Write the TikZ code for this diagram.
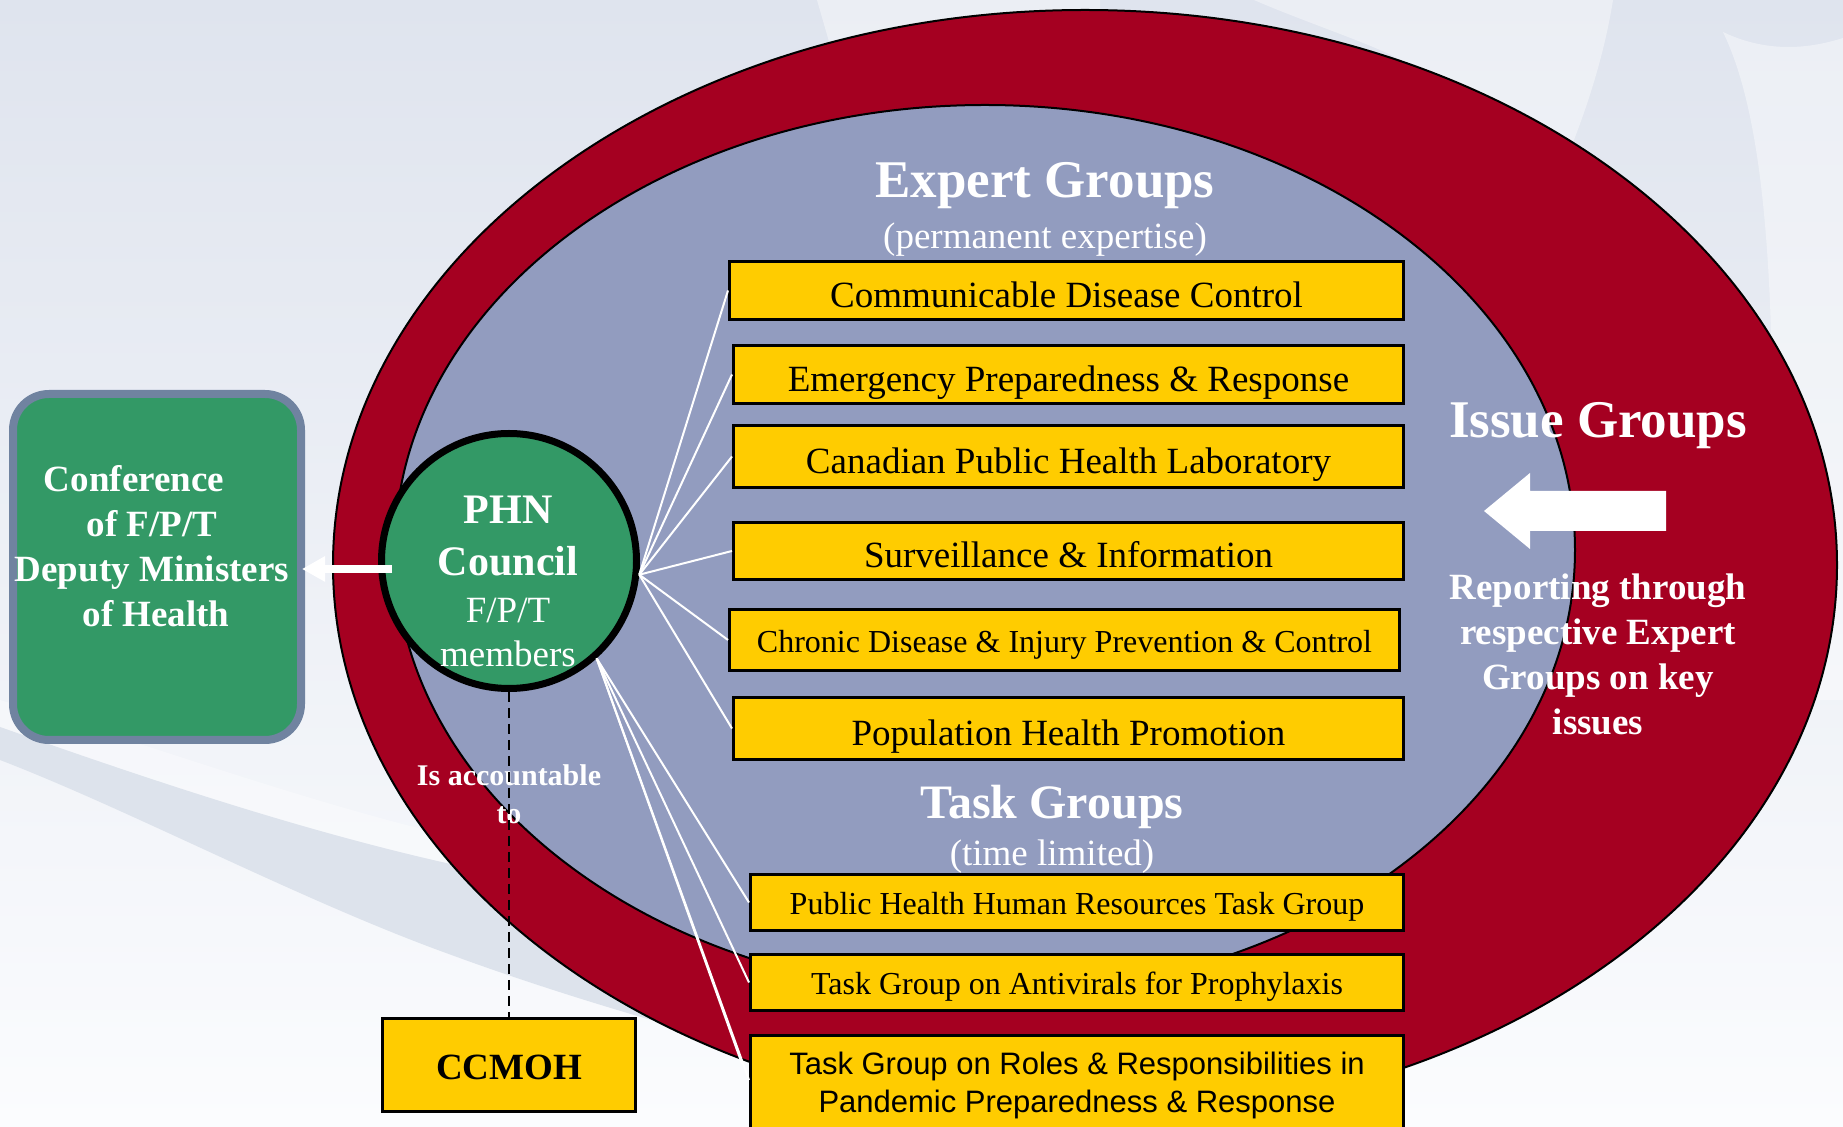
\documentclass[tikz,border=0pt]{standalone}
\usepackage{fontspec}
\setmainfont{Liberation Serif}
\newfontfamily\sansfont{Liberation Sans}
\usetikzlibrary{arrows.meta}

\definecolor{bgtop}{HTML}{DFE4EE}
\definecolor{bgmid}{HTML}{E8ECF2}
\definecolor{bgbot}{HTML}{FBFCFE}
\definecolor{bandc}{HTML}{DDE3EC}
\definecolor{ringred}{HTML}{A50021}
\definecolor{corebl}{HTML}{929CBF}
\definecolor{boxyel}{HTML}{FFCC00}
\definecolor{councilgr}{HTML}{339966}
\definecolor{confedge}{HTML}{7083A0}

\begin{document}
\begin{tikzpicture}[x=0.5pt,y=-0.5pt,
  ybox/.style={draw=black,line width=1.5pt,fill=boxyel,inner sep=0pt,
    font=\fontsize{18.5}{22}\selectfont,text height=17pt,text depth=0pt},
  ysmall/.style={ybox,font=\fontsize{16}{19}\selectfont,text height=12.2pt,text depth=0pt},
  fanline/.style={white,line width=1pt},
  wlabel/.style={text=white,inner sep=0pt,align=center},
]
\useasboundingbox (0,0) rectangle (1843,1127);

% background
\shade[top color=bgtop,middle color=bgmid,bottom color=bgbot] (0,0) rectangle (1843,1127);
\fill[white,opacity=0.35] (0,700) .. controls (150,745) and (300,800) .. (446,835)
  .. controls (560,860) and (680,885) .. (800,905) -- (800,935)
  .. controls (680,910) and (560,890) .. (446,863)
  .. controls (300,830) and (150,780) .. (0,727) -- cycle;
\fill[bandc] (0,727) .. controls (150,780) and (300,830) .. (446,863)
  .. controls (560,890) and (680,910) .. (800,935) -- (800,1060)
  .. controls (680,1030) and (560,995) .. (446,953)
  .. controls (300,900) and (130,810) .. (0,760) -- cycle;
\fill[white,opacity=0.4] (1254,0) .. controls (1300,20) and (1360,40) .. (1391,55)
  -- (1570,150) .. controls (1590,100) and (1605,50) .. (1613,0) -- cycle;
\fill[white,opacity=0.4] (817,0) -- (830,45) -- (1100,20) -- (1100,0) -- cycle;
\fill[white,opacity=0.4] (1723,32) .. controls (1750,45) and (1790,55) .. (1843,38)
  -- (1843,700) -- (1770,700) .. controls (1775,400) and (1780,150) .. (1723,32) -- cycle;

% rings
\draw[fill=ringred,line width=1pt] (1085,565) ellipse [x radius=752,y radius=555];
\draw[fill=corebl,line width=1pt] (985,550) ellipse [x radius=590,y radius=445];

% left box
\node[draw=confedge,fill=councilgr,line width=4pt,rounded corners=18pt,
  minimum width=144pt,minimum height=173pt,inner sep=0pt] (conf) at (157,567) {};
\node[wlabel,font=\bfseries\fontsize{18.5}{22.4}\selectfont] (conftxt) at (152,546)
  {Conference\hspace*{18pt}\\of F/P/T\\Deputy Ministers\\\hspace*{4pt}of Health};

% expert group boxes
\node[ybox,minimum width=337pt,minimum height=29pt] (e1) at (1066.5,290.5) {Communicable Disease Control};
\node[ybox,minimum width=335pt,minimum height=29pt] (e2) at (1068.5,374.5) {Emergency Preparedness \& Response};
\node[ybox,minimum width=335pt,minimum height=31pt] (e3) at (1068.5,456.5) {Canadian Public Health Laboratory};
\node[ybox,minimum width=335pt,minimum height=28.5pt] (e4) at (1068.5,551) {Surveillance \& Information};
\node[ysmall,minimum width=335pt,minimum height=30.5pt] (e5) at (1064.5,640) {Chronic Disease \& Injury Prevention \& Control};
\node[ybox,minimum width=335pt,minimum height=31pt] (e6) at (1068.5,728.5) {Population Health Promotion};

% task group boxes
\node[ysmall,minimum width=326.5pt,minimum height=28pt] (t7) at (1077,902.5) {Public Health Human Resources Task Group};
\node[ysmall,minimum width=326.5pt,minimum height=28pt] (t8) at (1077,982.5) {Task Group on Antivirals for Prophylaxis};
\node[ybox,minimum width=326.5pt,minimum height=52pt] (t9) at (1077,1087) {};
\node[inner sep=0pt,align=center,font=\sansfont\fontsize{15.5}{19}\selectfont] (t9txt) at (1077,1085)
  {Task Group on Roles \& Responsibilities in\\Pandemic Preparedness \& Response};

% group titles
\node[wlabel,font=\bfseries\fontsize{26.5}{30}\selectfont] (egtitle) at (1045,186) {Expert Groups};
\node[wlabel,font=\fontsize{18.5}{22}\selectfont] (egsub) at (1045,240) {(permanent expertise)};
\node[wlabel,font=\bfseries\fontsize{24}{28}\selectfont] (tgtitle) at (1052,807) {Task Groups};
\node[wlabel,font=\fontsize{18.5}{22}\selectfont] (tgsub) at (1052,857) {(time limited)};
\node[wlabel,font=\bfseries\fontsize{26.5}{30}\selectfont] (igtitle) at (1598,426) {Issue Groups};
\node[wlabel,font=\bfseries\fontsize{18.5}{22.5}\selectfont] (igtxt) at (1598,654)
  {Reporting through\\respective Expert\\Groups on key\\issues};

% issue groups arrow
\fill[white] (1484,511) -- (1530,473) -- (1530,491) -- (1666,491) -- (1666,531)
  -- (1530,531) -- (1530,549) -- cycle;

% council
\node[circle,draw=black,line width=3.5pt,fill=councilgr,minimum size=127.5pt,inner sep=0pt] (phn) at (509,561) {};
\node[wlabel,font=\bfseries\fontsize{21}{24}\selectfont] (phnA) at (508,510) {PHN};
\node[wlabel,font=\bfseries\fontsize{21}{24}\selectfont] (phnB) at (508,561) {Council};
\node[wlabel,font=\fontsize{18.5}{22}\selectfont] (phnC) at (508,610) {F/P/T};
\node[wlabel,font=\fontsize{18.5}{22}\selectfont] (phnD) at (508,654) {members};

% connectors from the council
\foreach \b in {e1,e2,e3,e4,e5,e6} \draw[fanline] (phn.-6) -- (\b.west);
\draw[fanline] (phn.-48) -- (t7.west);
\draw[fanline] (phn.-48) -- (t8.west);
\draw[fanline] (phn.-48) -- ([xshift=-3.5pt,yshift=11.5pt]t9.west);
\draw[fanline] (phn.-48) -- ([yshift=3.5pt]t9.west);

% reporting arrow to the conference
\coordinate (arrS) at (392,569);
\draw[white,line width=4pt,-{Triangle[length=11.5pt,width=12pt]}] (arrS) -- ([xshift=-1.5pt]arrS -| conf.east);

% accountability
\node[ybox,font=\bfseries\fontsize{18.5}{22}\selectfont,text height=14.6pt,minimum width=126.5pt,minimum height=46.5pt] (ccmoh) at (509,1065) {CCMOH};
\node[wlabel,font=\bfseries\fontsize{15}{19}\selectfont] (acc) at (509,794) {Is accountable\\to};
\draw[black,line width=1pt,dash pattern=on 5pt off 3pt] (phn.south) -- (ccmoh.north);
\end{tikzpicture}
\end{document}
